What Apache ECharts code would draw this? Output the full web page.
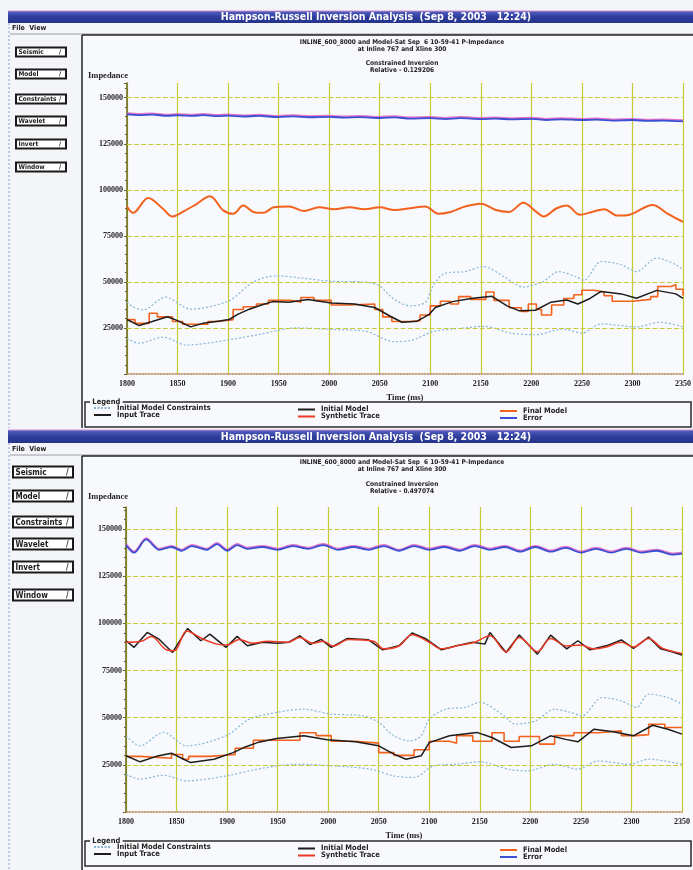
<!DOCTYPE html>
<html>
<head>
<meta charset="utf-8">
<title>Hampson-Russell Inversion Analysis</title>
<script src="https://cdn.jsdelivr.net/npm/echarts@6/dist/echarts.min.js"></script>
<style>
  html, body { margin: 0; padding: 0; background: #f4f5f9; }
  #chart { width: 693px; height: 870px; }
</style>
</head>
<body>
<div id="chart"></div>
<script>
// ---- data (time in ms, impedance) ----
const yTicks = [25000, 50000, 75000, 100000, 125000, 150000];
const buttonNames = ['Seismic', 'Model', 'Constraints', 'Wavelet', 'Invert', 'Window'];
const barTitle = 'Hampson-Russell Inversion Analysis  (Sep 8, 2003   12:24)';
const plotTitle = ['INLINE_600_8000 and Model-Sat Sep  6 10-59-41 P-Impedance', 'at Inline 767 and Xline 300'];
const relativeA = 'Relative - 0.129206';
const relativeB = 'Relative - 0.497074';

// top window
const upperA = [[1800,39000],[1806,36500],[1816,34800],[1838,41700],[1863,35200],[1901,39800],[1925,50000],[1948,53300],[1971,52200],[2002,50400],[2033,50000],[2049,48100],[2064,40700],[2080,37000],[2095,38900],[2103,48100],[2114,54600],[2134,55600],[2153,58300],[2173,52800],[2192,47200],[2211,50000],[2227,55600],[2244,52800],[2252,50900],[2269,61100],[2289,59300],[2304,55600],[2324,63000],[2343,59300],[2350,56500]];
const lowerA = [[1800,19400],[1812,16700],[1836,20000],[1859,15700],[1890,17600],[1929,21300],[1967,25000],[2006,24100],[2037,23100],[2064,17600],[2083,18500],[2103,23100],[2134,25000],[2153,25900],[2180,22200],[2204,21300],[2231,24400],[2250,22200],[2269,27200],[2304,25600],[2327,28100],[2350,25600]];
const initA = [[1800,29600],[1812,26300],[1825,28500],[1840,31100],[1850,29000],[1863,25600],[1875,27500],[1890,28700],[1901,29600],[1910,32500],[1921,35200],[1933,37500],[1944,39300],[1960,38900],[1979,40400],[2002,38500],[2025,38000],[2045,36100],[2060,31500],[2072,28100],[2087,28700],[2099,32400],[2105,36100],[2122,39300],[2142,41100],[2161,42200],[2176,37000],[2188,34300],[2204,34600],[2219,38900],[2235,40200],[2246,38000],[2258,41000],[2269,44800],[2289,43500],[2304,41100],[2324,45400],[2343,43500],[2350,41100]];
const finalA = [[1800,29500],[1808,27500],[1822,33000],[1830,31000],[1845,28500],[1855,27000],[1880,28500],[1890,29500],[1905,35000],[1915,36500],[1928,38000],[1940,40000],[1962,39000],[1972,41500],[1985,40000],[2002,37500],[2020,38000],[2045,35000],[2053,31000],[2062,28500],[2080,29000],[2090,32000],[2100,37000],[2110,39500],[2120,38000],[2128,42000],[2140,40500],[2155,44500],[2163,40000],[2178,36000],[2190,34000],[2197,38000],[2205,35000],[2210,32000],[2220,37500],[2232,41000],[2242,43000],[2250,45500],[2262,44500],[2272,42500],[2280,39500],[2300,40500],[2318,42000],[2325,47500],[2338,48500],[2343,46000],[2350,42500]];
const synA = [[1800,91000],[1806,87500],[1821,95600],[1835,90000],[1845,85500],[1855,88000],[1868,92000],[1882,96500],[1895,89000],[1905,87000],[1915,91500],[1925,88000],[1935,87500],[1945,90500],[1960,91000],[1975,88500],[1990,90500],[2005,89500],[2020,90500],[2035,89500],[2050,90500],[2065,89000],[2080,90000],[2095,91000],[2108,87000],[2120,88000],[2135,91000],[2150,92500],[2165,89000],[2178,88000],[2192,93000],[2205,88000],[2212,85500],[2225,90000],[2235,91500],[2248,86500],[2260,88000],[2272,89500],[2285,86000],[2297,86500],[2320,91800],[2335,87000],[2350,82600]];
const errA = [[1800,141000],[1812,140600],[1825,140800],[1840,140200],[1850,140500],[1865,140100],[1875,140600],[1890,140000],[1900,140300],[1915,139800],[1930,140100],[1950,139500],[1965,139900],[1980,139400],[2000,139600],[2015,139200],[2030,139500],[2050,139000],[2065,139300],[2080,138700],[2100,138900],[2115,138400],[2130,138900],[2150,138400],[2165,138700],[2180,138200],[2200,138500],[2215,137900],[2230,138300],[2250,137900],[2265,138100],[2280,137600],[2300,137900],[2315,137400],[2330,137600],[2350,137200]];

// bottom window
const upperB = [[1800,40400],[1814,35100],[1837,42200],[1860,35100],[1899,40400],[1922,49200],[1949,52800],[1976,54500],[2003,51900],[2034,51000],[2050,47500],[2065,40400],[2081,37700],[2092,40400],[2100,49200],[2116,54500],[2135,55400],[2150,58100],[2174,51000],[2185,46600],[2205,48300],[2224,54500],[2240,52800],[2251,51000],[2271,60700],[2290,58900],[2305,55400],[2317,62500],[2336,60700],[2350,57200]];
const lowerB = [[1800,20000],[1814,17400],[1837,19500],[1860,16500],[1899,19100],[1930,22700],[1968,25300],[2007,24400],[2042,22700],[2065,19100],[2085,18300],[2104,24400],[2127,25300],[2150,26600],[2178,22700],[2197,21800],[2224,25300],[2247,22700],[2267,27100],[2298,25300],[2317,28000],[2350,25300]];
const initB = [[1800,29800],[1814,26600],[1830,29500],[1845,31200],[1855,28500],[1864,26200],[1887,28000],[1906,31500],[1918,34500],[1930,36800],[1949,39000],[1976,40400],[1999,38300],[2027,37200],[2050,35100],[2065,30700],[2077,28000],[2092,29800],[2100,36800],[2120,40400],[2147,42200],[2162,39500],[2181,34200],[2201,35100],[2220,40400],[2235,38500],[2247,37200],[2263,43900],[2282,42500],[2302,40400],[2321,46000],[2336,43900],[2350,41300]];
const finalB = [[1800,29500],[1814,28500],[1845,30500],[1856,28000],[1862,29500],[1883,30500],[1908,33800],[1926,38000],[1972,42000],[1988,40500],[2003,37500],[2027,36500],[2050,31500],[2065,30000],[2085,33000],[2100,37500],[2120,36500],[2127,40500],[2143,37500],[2162,42000],[2174,37500],[2189,40000],[2209,36000],[2224,40500],[2243,42000],[2267,43000],[2290,40500],[2305,41000],[2317,46500],[2333,44800],[2350,44800]];
const inputB = [[1800,90800],[1808,87300],[1821,95200],[1833,91500],[1846,84600],[1861,97300],[1874,90800],[1883,94300],[1899,87300],[1910,93100],[1920,88100],[1935,90000],[1950,89500],[1961,90000],[1972,93400],[1982,88800],[1993,91500],[2003,87300],[2019,92000],[2040,91300],[2054,86000],[2070,88100],[2083,94900],[2097,91700],[2112,86000],[2127,88100],[2143,90000],[2155,89000],[2160,95200],[2176,84600],[2189,93800],[2207,83700],[2220,93800],[2236,86500],[2247,90800],[2259,86000],[2275,88100],[2290,91200],[2302,86800],[2317,92700],[2329,86500],[2340,85000],[2350,83200]];
const synB = [[1800,90000],[1815,90500],[1825,93000],[1840,86000],[1848,85500],[1860,96000],[1875,92000],[1890,89000],[1900,88500],[1912,91500],[1925,89500],[1940,90500],[1960,90000],[1972,92500],[1985,89500],[1995,90500],[2005,88000],[2020,91500],[2045,90500],[2055,86500],[2070,88000],[2083,94000],[2100,90000],[2112,86500],[2130,88500],[2145,90000],[2160,93500],[2176,85000],[2189,92500],[2207,85000],[2220,92000],[2236,88000],[2250,88500],[2262,86500],[2275,87500],[2290,90000],[2302,87500],[2317,92000],[2330,87000],[2350,84000]];
const errB = [[1800,141500],[1808,137500],[1820,144500],[1833,139000],[1845,140500],[1855,138500],[1865,141000],[1880,139000],[1890,142000],[1900,138500],[1910,141500],[1920,139500],[1935,140500],[1950,139000],[1965,141000],[1980,139500],[1995,141500],[2010,139000],[2025,140500],[2040,139000],[2055,141000],[2070,138500],[2085,141000],[2100,139000],[2115,140500],[2130,138500],[2145,141000],[2160,139000],[2175,140500],[2190,138000],[2205,140500],[2220,138000],[2235,140000],[2250,137500],[2265,139500],[2280,137500],[2295,139500],[2310,137500],[2325,138500],[2340,136500],[2350,137000]];

// ---- look ----
const SANS = '"DejaVu Sans Condensed", "DejaVu Sans", sans-serif';
const SERIF = '"Liberation Serif", "DejaVu Serif", serif';
const GRID_YELLOW = '#c6ca34';
const C = {
  constraint: '#86b6d6',
  black: '#1c1c1c',
  final: '#f2621c',
  synth: '#ec3a24',
  error: '#3a4fd2'
};

// window layout (pixels)
const winA = {
  barY: 11, barH: 12, menuY: 28, frameY: 35, frameB: 428,
  btnX: 16, btnW: 50, btnH: 9, btnFont: 6.5, btnY: [52, 74, 99, 121, 144, 167],
  titleY: 42, subY: 63, impY: 76, relative: relativeA,
  legY: 402, legB: 427, grid: { left: 127, top: 83, width: 556, height: 291 }, yMax: 158000
};
const winB = {
  barY: 430, barH: 13, menuY: 449, frameY: 456, frameB: 870,
  btnX: 13, btnW: 60, btnH: 11, btnFont: 8, btnY: [472, 496, 522, 544, 567, 595],
  titleY: 462, subY: 484, impY: 497, relative: relativeB,
  legY: 841, legB: 866, grid: { left: 126, top: 507, width: 556, height: 305 }, yMax: 161700
};

const legendCols = [
  [['Initial Model Constraints', C.constraint, 'dotted'], ['Input Trace', C.black, 'solid']],
  [['Initial Model', C.black, 'solid'], ['Synthetic Trace', C.synth, 'solid']],
  [['Final Model', C.final, 'solid'], ['Error', C.error, 'solid']]
];

function chrome(w) {
  const els = [];
  // title bar
  els.push({ type: 'rect', silent: true, shape: { x: 8, y: w.barY, width: 685, height: w.barH },
    style: { fill: new echarts.graphic.LinearGradient(0, 0, 0, 1, [
      { offset: 0, color: '#5361c2' }, { offset: 0.5, color: '#2f3d9c' }, { offset: 1, color: '#26338a' }]) } });
  els.push({ type: 'line', silent: true, shape: { x1: 8, y1: w.barY, x2: 693, y2: w.barY },
    style: { stroke: '#d58fd0', lineWidth: 1 } });
  els.push({ type: 'text', silent: true, x: 376, y: w.barY + w.barH / 2 + 0.5,
    style: { text: barTitle, font: 'bold 10.5px ' + SANS, fill: '#ffffff', align: 'center', verticalAlign: 'middle',
      textAlign: 'center', textVerticalAlign: 'middle' } });
  // menu
  els.push({ type: 'text', silent: true, x: 12, y: w.menuY,
    style: { text: 'File  View', font: 'bold 7px ' + SANS, fill: '#222', verticalAlign: 'middle', textVerticalAlign: 'middle' } });
  // left dotted border
  els.push({ type: 'line', silent: true, shape: { x1: 9, y1: w.barY + w.barH, x2: 9, y2: w.frameB },
    style: { stroke: '#8aa0d8', lineWidth: 1, lineDash: [2, 2] } });
  // plot frame
  els.push({ type: 'rect', silent: true, z: -1, shape: { x: 82, y: w.frameY, width: 611, height: w.frameB - w.frameY },
    style: { fill: '#f8f9fc' } });
  els.push({ type: 'line', silent: true, shape: { x1: 10, y1: w.frameY - 1, x2: 693, y2: w.frameY - 1 },
    style: { stroke: '#9a9aa8', lineWidth: 1 } });
  els.push({ type: 'line', silent: true, shape: { x1: 82, y1: w.frameY, x2: 693, y2: w.frameY },
    style: { stroke: '#222', lineWidth: 1.5 } });
  els.push({ type: 'line', silent: true, shape: { x1: 82, y1: w.frameY, x2: 82, y2: w.frameB },
    style: { stroke: '#222', lineWidth: 1.5 } });
  // buttons
  buttonNames.forEach((name, i) => {
    const y = w.btnY[i] - w.btnH / 2;
    els.push({ type: 'rect', silent: true, shape: { x: w.btnX, y: y, width: w.btnW, height: w.btnH },
      style: { fill: '#ffffff', stroke: '#1a1a1a', lineWidth: 2 } });
    els.push({ type: 'text', silent: true, x: w.btnX + 2.5, y: w.btnY[i] + 0.5,
      style: { text: name, font: 'bold ' + w.btnFont + 'px ' + SANS, fill: '#1a1a1a',
        verticalAlign: 'middle', textVerticalAlign: 'middle' } });
    els.push({ type: 'text', silent: true, x: w.btnX + w.btnW - 7, y: w.btnY[i] + 0.5,
      style: { text: '/', font: 'bold ' + w.btnFont + 'px ' + SANS, fill: '#1a1a1a',
        verticalAlign: 'middle', textVerticalAlign: 'middle' } });
  });
  // plot titles
  const cx = 402;
  plotTitle.forEach((t, i) => els.push({ type: 'text', silent: true, x: cx, y: w.titleY + i * 7,
    style: { text: t, font: 'bold 6.5px ' + SANS, fill: '#222', align: 'center', verticalAlign: 'middle',
      textAlign: 'center', textVerticalAlign: 'middle' } }));
  ['Constrained Inversion', w.relative].forEach((t, i) => els.push({ type: 'text', silent: true, x: cx, y: w.subY + i * 7,
    style: { text: t, font: 'bold 6.5px ' + SANS, fill: '#222', align: 'center', verticalAlign: 'middle',
      textAlign: 'center', textVerticalAlign: 'middle' } }));
  els.push({ type: 'text', silent: true, x: 88, y: w.impY,
    style: { text: 'Impedance', font: 'bold 8.5px ' + SERIF, fill: '#222', verticalAlign: 'middle', textVerticalAlign: 'middle' } });
  // legend box
  els.push({ type: 'rect', silent: true, shape: { x: 85, y: w.legY, width: 606, height: w.legB - w.legY },
    style: { fill: 'none', stroke: '#2a2a2a', lineWidth: 1.5 } });
  els.push({ type: 'text', silent: true, x: 90, y: w.legY,
    style: { text: ' Legend ', font: 'bold 7.5px ' + SANS, fill: '#222', backgroundColor: '#f8f9fc',
      verticalAlign: 'middle', textVerticalAlign: 'middle' } });
  const colX = [94, 298, 500];
  legendCols.forEach((col, ci) => {
    col.forEach((item, ri) => {
      const y = w.legY + 6 + ri * 7 + ci * 1.5;
      els.push({ type: 'line', silent: true, shape: { x1: colX[ci], y1: y, x2: colX[ci] + 17, y2: y },
        style: { stroke: item[1], lineWidth: 2, lineDash: item[2] === 'dotted' ? [2, 1.5] : null } });
      els.push({ type: 'text', silent: true, x: colX[ci] + 23, y: y,
        style: { text: item[0], font: 'bold 7.5px ' + SANS, fill: '#222', verticalAlign: 'middle', textVerticalAlign: 'middle' } });
    });
  });
  return els;
}

function axes(w, idx) {
  const xAxis = {
    type: 'value', gridIndex: idx, min: 1800, max: 2350, interval: 50,
    name: 'Time (ms)', nameLocation: 'middle', nameGap: 19,
    nameTextStyle: { fontFamily: SERIF, fontWeight: 'bold', fontSize: 8.5, color: '#222' },
    axisLine: { show: true, onZero: false, lineStyle: { color: '#b08858', type: 'dotted', width: 1.5 } },
    axisTick: { show: false },
    axisLabel: { fontFamily: SERIF, fontWeight: 'bold', fontSize: 8, color: '#222', margin: 6,
      formatter: v => String(v) },
    splitLine: { show: true, lineStyle: { color: GRID_YELLOW, width: 1.2 } }
  };
  const yAxis = {
    type: 'value', gridIndex: idx, min: 0, max: w.yMax, interval: 25000,
    axisLine: { show: true, lineStyle: { color: '#6a6420', width: 1.5 } },
    axisTick: { show: true, length: 3, lineStyle: { color: '#6a6420' } },
    minorTick: { show: true, splitNumber: 5, length: 2, lineStyle: { color: '#6a6420' } },
    axisLabel: { fontFamily: SERIF, fontWeight: 'bold', fontSize: 8, color: '#222', margin: 4,
      formatter: v => (yTicks.indexOf(v) >= 0 ? String(v) : '') },
    splitLine: { show: false }
  };
  return { xAxis, yAxis };
}

function lineSeries(name, data, idx, color, opts) {
  return Object.assign({
    name, type: 'line', data, xAxisIndex: idx, yAxisIndex: idx,
    showSymbol: false, symbol: 'none', silent: true, animation: false,
    lineStyle: { color, width: 1.5 }
  }, opts || {});
}

function panelSeries(idx, d) {
  const s = [];
  s.push({
    type: 'line', data: [], xAxisIndex: idx, yAxisIndex: idx, silent: true, z: 1,
    markLine: { silent: true, symbol: 'none', animation: false, label: { show: false },
      lineStyle: { color: GRID_YELLOW, type: 'dashed', width: 1.2 },
      data: yTicks.map(v => ({ yAxis: v })) }
  });
  s.push(lineSeries('Initial Model Constraints', d.upper, idx, C.constraint,
    { smooth: 0.3, lineStyle: { color: C.constraint, width: 1.2, type: [2, 2] } }));
  s.push(lineSeries('Initial Model Constraints', d.lower, idx, C.constraint,
    { smooth: 0.3, lineStyle: { color: C.constraint, width: 1.2, type: [2, 2] } }));
  s.push(lineSeries('Final Model', d.final, idx, C.final, { step: 'end', lineStyle: { color: C.final, width: 1.6 } }));
  s.push(lineSeries('Initial Model', d.init, idx, C.black, { lineStyle: { color: C.black, width: 1.5 } }));
  if (d.input) s.push(lineSeries('Input Trace', d.input, idx, C.black, { lineStyle: { color: C.black, width: 1.5 } }));
  s.push(lineSeries('Synthetic Trace', d.syn, idx, d.input ? C.synth : C.final,
    { smooth: 0.35, lineStyle: { color: d.input ? C.synth : C.final, width: d.input ? 1.5 : 2 } }));
  s.push(lineSeries('Error', d.err, idx, C.error, { smooth: 0.3,
    lineStyle: { color: C.error, width: 1.8, shadowColor: 'rgba(225,90,190,0.85)', shadowBlur: 0, shadowOffsetY: -1.2 } }));
  return s;
}

const chart = echarts.init(document.getElementById('chart'), null, { renderer: 'canvas' });
const aA = axes(winA, 0), aB = axes(winB, 1);
chart.setOption({
  animation: false,
  backgroundColor: '#f4f5f9',
  grid: [
    Object.assign({ containLabel: false, outerBoundsMode: 'none' }, winA.grid),
    Object.assign({ containLabel: false, outerBoundsMode: 'none' }, winB.grid)
  ],
  xAxis: [aA.xAxis, aB.xAxis],
  yAxis: [aA.yAxis, aB.yAxis],
  graphic: { elements: chrome(winA).concat(chrome(winB)) },
  series: panelSeries(0, { upper: upperA, lower: lowerA, init: initA, final: finalA, syn: synA, err: errA })
    .concat(panelSeries(1, { upper: upperB, lower: lowerB, init: initB, final: finalB, input: inputB, syn: synB, err: errB }))
});
</script>
</body>
</html>
